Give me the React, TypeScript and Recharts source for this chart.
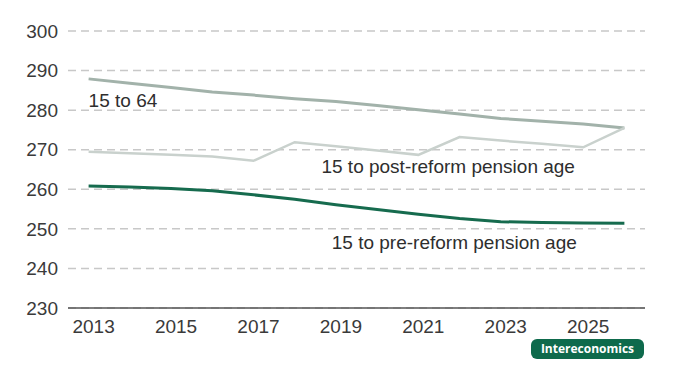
import { LineChart, Line, XAxis, YAxis, CartesianGrid, ReferenceDot } from "recharts"

// annual values
const years = [2013, 2014, 2015, 2016, 2017, 2018, 2019, 2020, 2021, 2022, 2023, 2024, 2025, 2026]
const age15to64 = [287.9, 286.8, 285.7, 284.6, 283.8, 282.9, 282.2, 281.2, 280.1, 279.0, 277.9, 277.2, 276.5, 275.5]
const postReform = [269.5, 269.1, 268.7, 268.3, 267.2, 271.9, 270.9, 269.8, 268.7, 273.2, 272.3, 271.5, 270.6, 275.5]
const preReform = [260.8, 260.6, 260.2, 259.6, 258.6, 257.5, 256.1, 254.9, 253.7, 252.6, 251.8, 251.6, 251.5, 251.4]

const xTicks = [2013, 2015, 2017, 2019, 2021, 2023, 2025]
const yTicks = [230, 240, 250, 260, 270, 280, 290, 300]

// series labels placed in data coordinates: [text, year, value]
const labels: [string, number, number][] = [
  ["15 to 64", 2013, 282.6],
  ["15 to post-reform pension age", 2018.65, 265.9],
  ["15 to pre-reform pension age", 2018.9, 246.7],
]

const data = years.map((year, i) => ({
  year,
  a: age15to64[i],
  b: postReform[i],
  c: preReform[i],
}))

const font = "'Liberation Sans', Arial, sans-serif"

export default function App() {
  return (
    <div style={{ position: "absolute", left: 0, top: 0, width: 690, height: 382, background: "#fff", fontFamily: font }}>
      <LineChart width={690} height={382} data={data} margin={{ top: 31, right: 45, bottom: 0, left: 0 }}>
        <CartesianGrid horizontal={true} vertical={false} stroke="#c8c8c8" strokeDasharray="8 5" strokeWidth={1.5} />
        <XAxis
          dataKey="year"
          type="number"
          domain={[2012.5, 2026.5]}
          ticks={xTicks}
          tickLine={false}
          tickSize={0}
          tickMargin={12}
          height={74}
          axisLine={{ stroke: "#555", strokeWidth: 1.5 }}
          tick={{ fill: "#3a3a3a", fontSize: 19, fontFamily: font, dx: 5 }}
        />
        <YAxis
          type="number"
          domain={[230, 300]}
          ticks={yTicks}
          width={68}
          axisLine={false}
          tickLine={false}
          tickSize={0}
          tickMargin={10}
          tick={{ fill: "#3a3a3a", fontSize: 19, fontFamily: font }}
        />
        <Line dataKey="a" stroke="#a2b2aa" strokeWidth={3} dot={false} isAnimationActive={false} />
        <Line dataKey="b" stroke="#c9d1cd" strokeWidth={2.5} dot={false} isAnimationActive={false} />
        <Line dataKey="c" stroke="#166b4e" strokeWidth={3} dot={false} isAnimationActive={false} />
        {labels.map(([text, x, y]) => (
          <ReferenceDot
            key={text}
            x={x}
            y={y}
            r={0}
            ifOverflow="visible"
            fill="none"
            stroke="none"
            label={(props: any) => (
              <text
                x={props.viewBox.x}
                y={props.viewBox.y}
                dy="0.35em"
                textAnchor="start"
                fill="#2e2e2e"
                fontSize={19}
                fontFamily={font}
              >
                {text}
              </text>
            )}
          />
        ))}
      </LineChart>
      <div
        style={{
          position: "absolute",
          left: 531,
          top: 339,
          width: 113,
          height: 20,
          borderRadius: 6,
          background: "#0e6a4c",
          color: "#fff",
          fontSize: 12,
          fontWeight: 700,
          lineHeight: "20px",
          textAlign: "center",
          fontFamily: "'Open Sans', sans-serif",
        }}
      >
        Intereconomics
      </div>
    </div>
  )
}
